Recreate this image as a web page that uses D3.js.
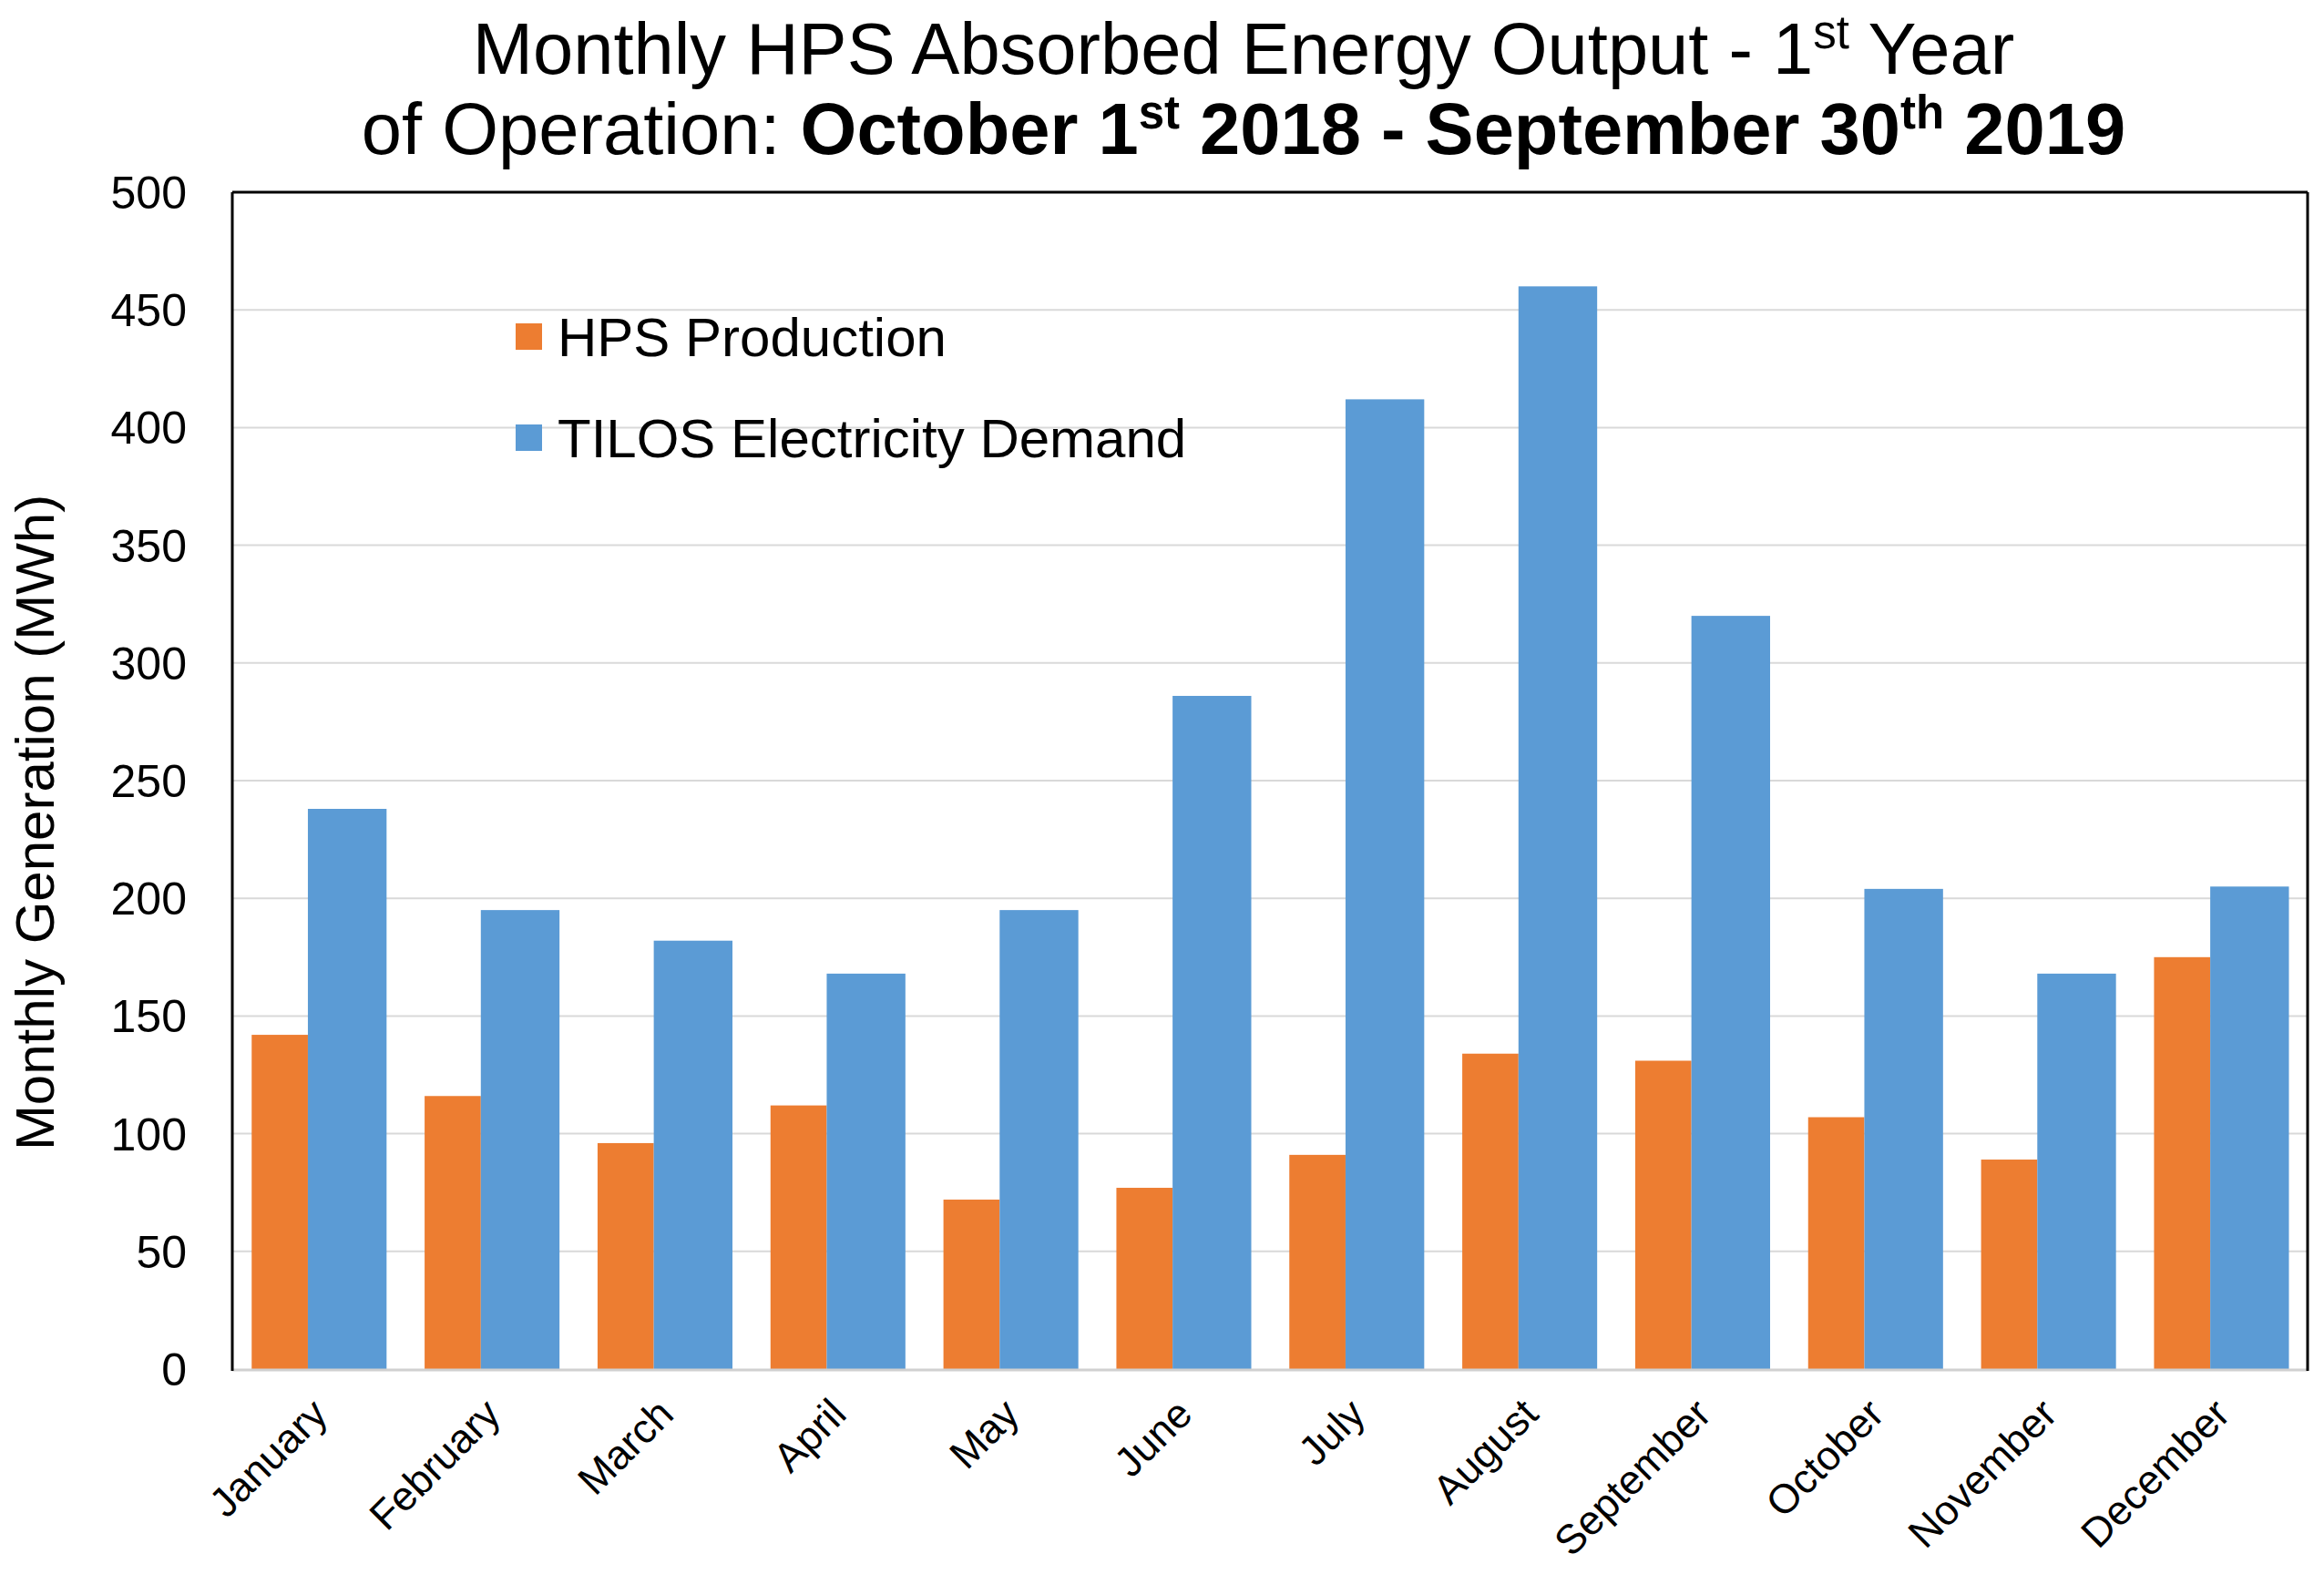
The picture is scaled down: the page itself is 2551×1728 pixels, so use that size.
<!DOCTYPE html>
<html>
<head>
<meta charset="utf-8">
<script src="https://cdn.jsdelivr.net/npm/d3@7"></script>
<style>
  html, body { margin: 0; padding: 0; background: #fff; }
  svg { display: block; font-family: "Liberation Sans", Arial, sans-serif; }
</style>
</head>
<body>
<svg id="chart" width="2551" height="1728"></svg>
<script>
const months = ["January","February","March","April","May","June","July","August","September","October","November","December"];
const hpsProduction = [142, 116, 96, 112, 72, 77, 91, 134, 131, 107, 89, 175];
const tilosDemand = [238, 195, 182, 168, 195, 286, 412, 460, 320, 204, 168, 205];
const yTicks = [0, 50, 100, 150, 200, 250, 300, 350, 400, 450, 500];
const seriesNames = ["HPS Production", "TILOS Electricity Demand"];
const seriesColors = ["#ED7D31", "#5B9BD5"];

const svg = d3.select("#chart");
const pLeft = 255, pRight = 2533, pTop = 211, pBottom = 1503;

const x = d3.scaleBand().domain(months).range([pLeft, pRight]).padding(0);
const y = d3.scaleLinear().domain([0, 500]).range([pBottom, pTop]);
const bw = x.bandwidth();
// sub-positions within a category (fractions of band)
const orangeStart = 0.112, orangeW = 0.325, blueW = 0.455;

// gridlines
svg.append("g").selectAll("line").data(yTicks.filter(d => d > 0 && d < 500)).join("line")
  .attr("x1", pLeft).attr("x2", pRight)
  .attr("y1", d => y(d)).attr("y2", d => y(d))
  .attr("stroke", "#d9d9d9").attr("stroke-width", 2);

// bars
const g = svg.append("g");
g.selectAll("rect.hps").data(months).join("rect").attr("class", "hps")
  .attr("x", (d) => x(d) + bw * orangeStart)
  .attr("width", bw * orangeW)
  .attr("y", (d, i) => y(hpsProduction[i]))
  .attr("height", (d, i) => y(0) - y(hpsProduction[i]))
  .attr("fill", seriesColors[0]);
g.selectAll("rect.tilos").data(months).join("rect").attr("class", "tilos")
  .attr("x", (d) => x(d) + bw * (orangeStart + orangeW))
  .attr("width", bw * blueW)
  .attr("y", (d, i) => y(tilosDemand[i]))
  .attr("height", (d, i) => y(0) - y(tilosDemand[i]))
  .attr("fill", seriesColors[1]);

// bottom axis line (gray)
svg.append("line").attr("x1", pLeft).attr("x2", pRight).attr("y1", pBottom + 1).attr("y2", pBottom + 1)
  .attr("stroke", "#d0d0d0").attr("stroke-width", 3);
// frame: top, left, right black
svg.append("line").attr("x1", pLeft).attr("x2", pRight).attr("y1", pTop).attr("y2", pTop)
  .attr("stroke", "#000").attr("stroke-width", 3);
svg.append("line").attr("x1", pLeft).attr("x2", pLeft).attr("y1", pTop).attr("y2", pBottom + 2)
  .attr("stroke", "#000").attr("stroke-width", 3);
svg.append("line").attr("x1", pRight).attr("x2", pRight).attr("y1", pTop).attr("y2", pBottom + 2)
  .attr("stroke", "#000").attr("stroke-width", 3);

// y axis labels
const yAxis = d3.axisLeft(y).tickValues(yTicks).tickSize(0).tickPadding(0);
const ya = svg.append("g").attr("transform", `translate(${pLeft - 50},0)`).call(yAxis);
ya.select(".domain").remove();
ya.selectAll("text").attr("font-size", 50).attr("fill", "#000")
  .attr("font-family", "'Liberation Sans', Arial, sans-serif").attr("dy", "0.35em");

// x axis labels
const xAxis = d3.axisBottom(x).tickSize(0).tickPadding(0);
const xa = svg.append("g").attr("transform", `translate(0,${pBottom})`).call(xAxis);
xa.select(".domain").remove();
xa.selectAll("text")
  .attr("font-size", 45).attr("fill", "#000")
  .attr("font-family", "'Liberation Sans', Arial, sans-serif")
  .attr("text-anchor", "end")
  .attr("y", 0).attr("dy", 0)
  .attr("transform", "translate(12,52) rotate(-45)");

// y axis title
svg.append("text")
  .attr("transform", "translate(59,903) rotate(-90)")
  .attr("text-anchor", "middle")
  .attr("font-size", 60)
  .attr("fill", "#000")
  .text("Monthly Generation (MWh)");

// title
const t1 = svg.append("text").attr("x", 1365).attr("y", 81).attr("text-anchor", "middle")
  .attr("font-size", 79.5).attr("fill", "#000");
t1.append("tspan").text("Monthly HPS Absorbed Energy Output - 1");
t1.append("tspan").attr("font-size", 51).attr("dy", -28).text("st");
t1.append("tspan").attr("dy", 28).text(" Year");

const t2 = svg.append("text").attr("x", 1365).attr("y", 169).attr("text-anchor", "middle")
  .attr("font-size", 79.5).attr("fill", "#000");
t2.append("tspan").text("of Operation: ");
t2.append("tspan").attr("font-weight", "bold").text("October 1");
t2.append("tspan").attr("font-weight", "bold").attr("font-size", 51).attr("dy", -28).text("st");
t2.append("tspan").attr("font-weight", "bold").attr("dy", 28).text(" 2018 - September 30");
t2.append("tspan").attr("font-weight", "bold").attr("font-size", 51).attr("dy", -28).text("th");
t2.append("tspan").attr("font-weight", "bold").attr("dy", 28).text(" 2019");

// legend
const legendY = [370, 481];
const lg = svg.append("g");
seriesNames.forEach((name, i) => {
  lg.append("rect").attr("x", 566).attr("y", legendY[i] - 15).attr("width", 29).attr("height", 29)
    .attr("fill", seriesColors[i]);
  lg.append("text").attr("x", 612).attr("y", legendY[i]).attr("dy", "0.35em")
    .attr("font-size", 60).attr("fill", "#000").text(name);
});
</script>
</body>
</html>
